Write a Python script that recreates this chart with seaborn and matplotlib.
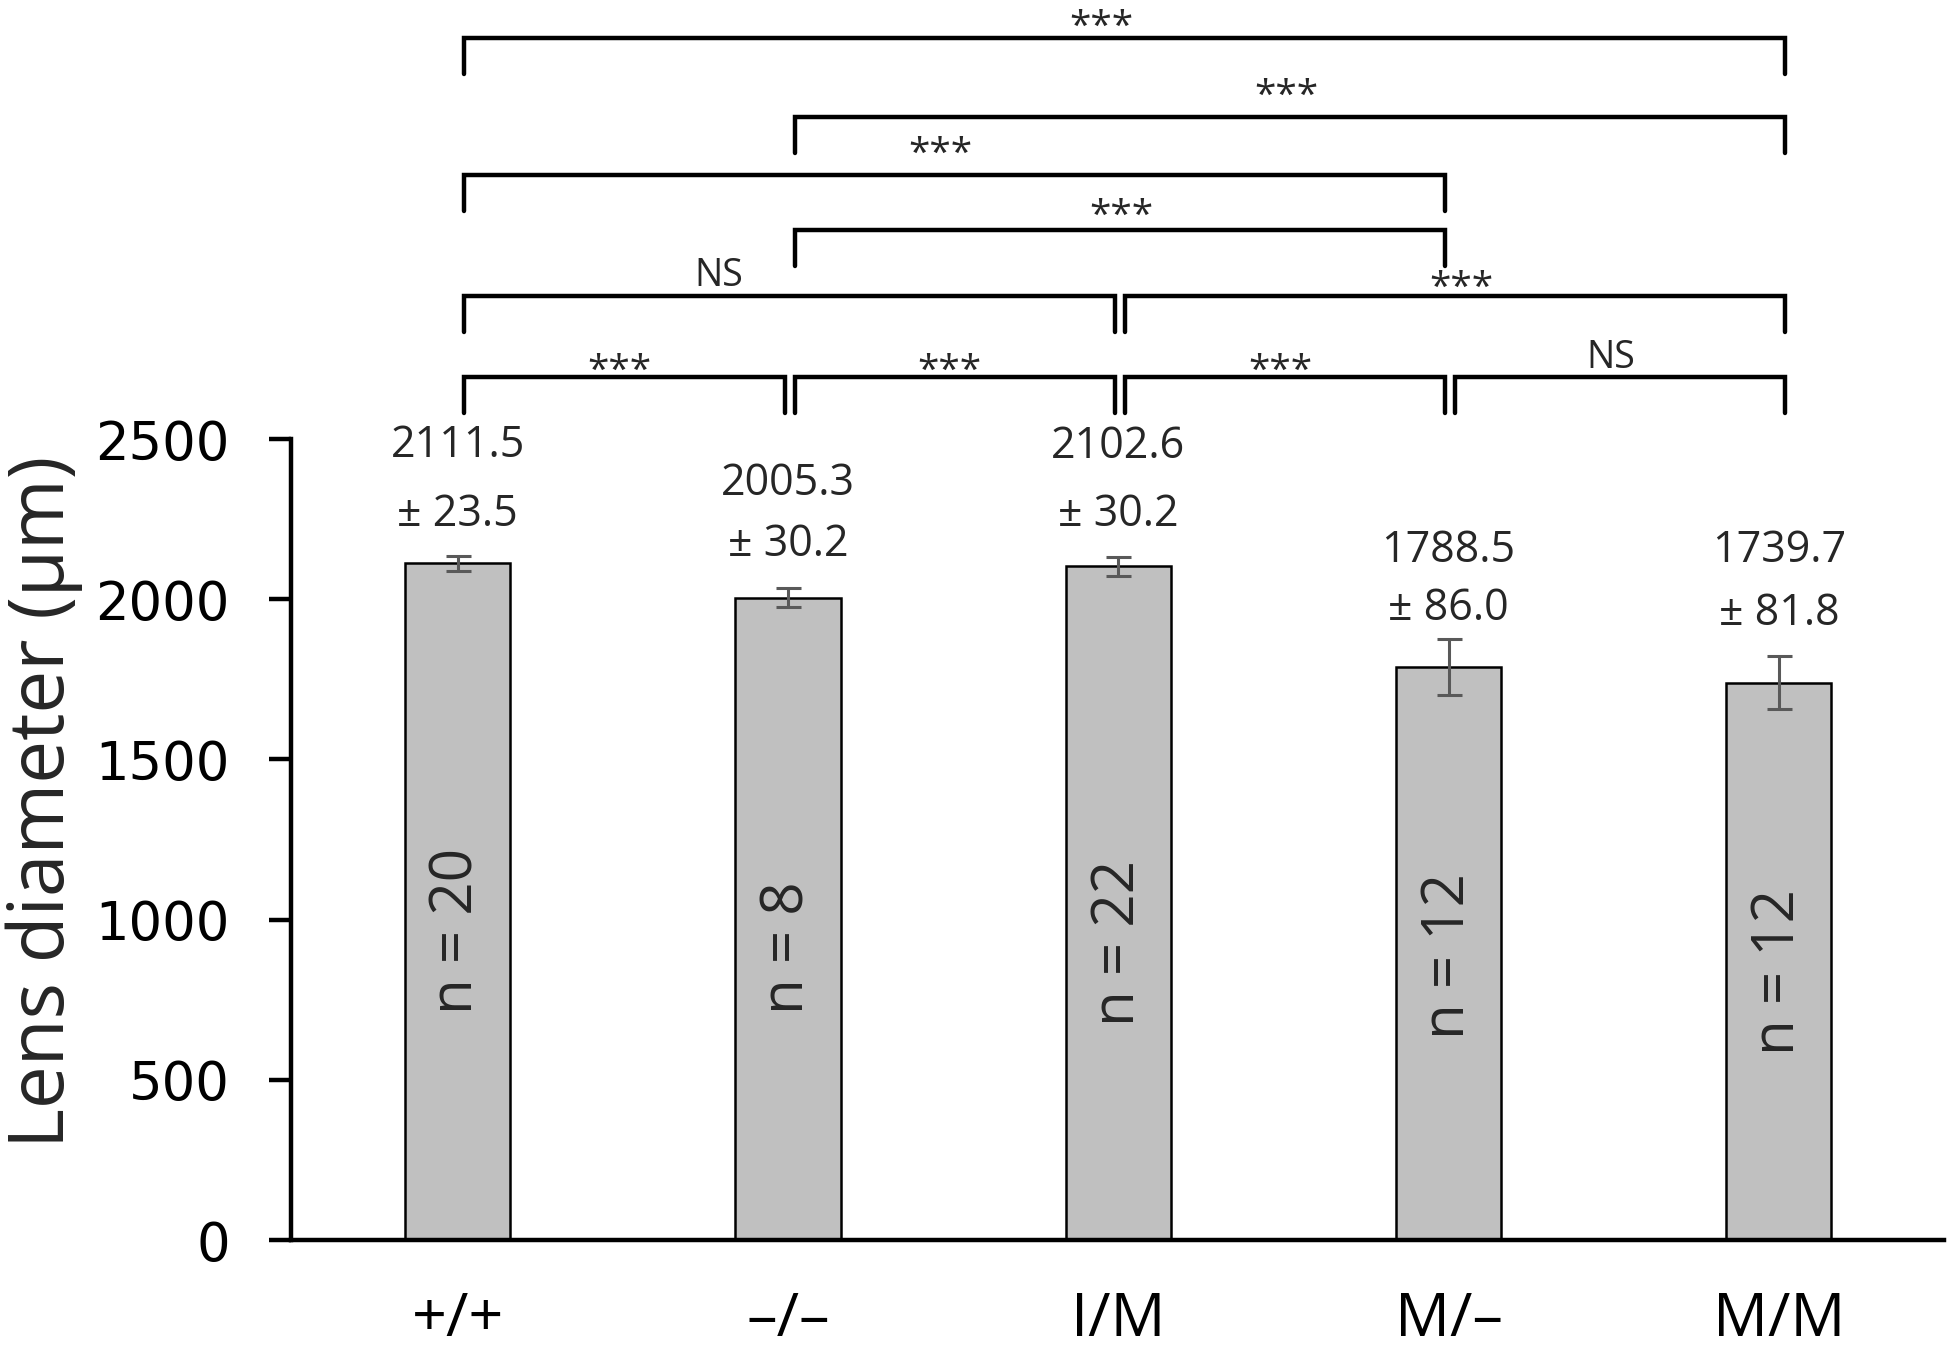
import matplotlib
matplotlib.use("Agg")
import matplotlib.pyplot as plt
import seaborn as sns
import pandas as pd

# ---- data ----
genotypes = ["+/+", "-/-", "I/M", "M/-", "M/M"]
tick_labels = ["+/+", "\u2013/\u2013", "I/M", "M/\u2013", "M/M"]
means = [2111.5, 2005.3, 2102.6, 1788.5, 1739.7]
sems = [23.5, 30.2, 30.2, 86.0, 81.8]
n_counts = [20, 8, 22, 12, 12]
cmp_left = [0, 1, 0, 1, 0, 2, 0, 1, 2, 3]
cmp_right = [4, 4, 3, 3, 2, 4, 1, 2, 3, 4]
cmp_labels = ["***", "***", "***", "***", "NS", "***", "***", "***", "***", "NS"]

# ---- layout (annotation placement) ----
cmp_level = [3750, 3505, 3323, 3152, 2946, 2946, 2694, 2694, 2694, 2694]
cmp_text_x = [1.95, 2.51, 1.46, 2.01, 0.79, 3.04, 0.49, 1.49, 2.49, 3.49]
cmp_text_y = [3812, 3599, 3416, 3222, 3008, 2997, 2741, 2741, 2741, 2752]
n_text_start = [705, 705, 668, 629, 578]
sem_text_offset = [30, 31, 30, 22, 31]
mean_text_offset = [79, 75, 79, 64, 76]

sns.set_theme(style="white")
narrow = ["Liberation Sans Narrow", "Open Sans", "DejaVu Sans"]
plt.rcParams["font.family"] = narrow

df = pd.DataFrame({"genotype": genotypes, "diameter": means})

fig = plt.figure(figsize=(19.5, 13.6), dpi=100)
ax = fig.add_axes([0.1492, 0.0882, 0.9969 - 0.1492, 0.6772 - 0.0882])

sns.barplot(data=df, x="genotype", y="diameter", order=genotypes, color="#c0c0c0",
            saturation=1, edgecolor="black", linewidth=1.8, width=0.318,
            errorbar=None, ax=ax)
ax.errorbar(range(len(genotypes)), means, yerr=sems, fmt="none", ecolor="#595959",
            elinewidth=2.2, capsize=9, capthick=2.2, zorder=5)

ax.set_xlim(-0.505, 4.5)
ax.set_ylim(0, 2500)
ax.set_yticks([0, 500, 1000, 1500, 2000, 2500])
ax.set_yticklabels(["0", "500", "1000", "1500", "2000", "2500"], family="DejaVu Sans", fontsize=38)
ax.set_xticks(range(len(genotypes)))
ax.set_xticklabels(tick_labels, fontsize=44)
for s in ["top", "right"]:
    ax.spines[s].set_visible(False)
for s in ["left", "bottom"]:
    ax.spines[s].set_linewidth(3.2)
    ax.spines[s].set_color("black")
ax.tick_params(axis="y", direction="out", length=16, width=3.2, pad=28, left=True, colors="black")
ax.tick_params(axis="x", length=0, pad=36, colors="black")
ax.set_xlabel("")
ax.set_ylabel("")
ax.text(-0.149, 0.547, "Lens diameter (\u03bcm)", transform=ax.transAxes, rotation=90,
        ha="center", va="center", fontsize=55)

# value annotations
for i, (m, e) in enumerate(zip(means, sems)):
    top = m + e
    ax.annotate(f"\u00b1 {e:.1f}", (i, top), xytext=(0, sem_text_offset[i]),
                textcoords="offset points", ha="center", va="center", fontsize=31)
    ax.annotate(f"{m:.1f}", (i, top), xytext=(0, mean_text_offset[i]),
                textcoords="offset points", ha="center", va="center", fontsize=31)

# n labels
for i, (n, y0) in enumerate(zip(n_counts, n_text_start)):
    ax.text(i, y0, f"n = {n}", rotation=90, rotation_mode="anchor", ha="left", va="center",
            fontsize=42)

# significance brackets
drop = 112
for l, r, lab, lev, tx, ty in zip(cmp_left, cmp_right, cmp_labels, cmp_level,
                                  cmp_text_x, cmp_text_y):
    x0 = l + 0.02
    x1 = r + 0.02 if r == len(genotypes) - 1 else r - 0.01
    ax.plot([x0, x0, x1, x1], [lev - drop, lev, lev, lev - drop], color="black",
            lw=3.2, clip_on=False, solid_joinstyle="miter")
    if lab == "NS":
        ax.text(tx, ty, lab, ha="center", va="center", fontsize=27, clip_on=False)
    else:
        ax.text(tx, ty - 30, lab, ha="center", va="center", fontsize=28, clip_on=False)

fig.savefig("out.png", dpi=100, facecolor="white")
